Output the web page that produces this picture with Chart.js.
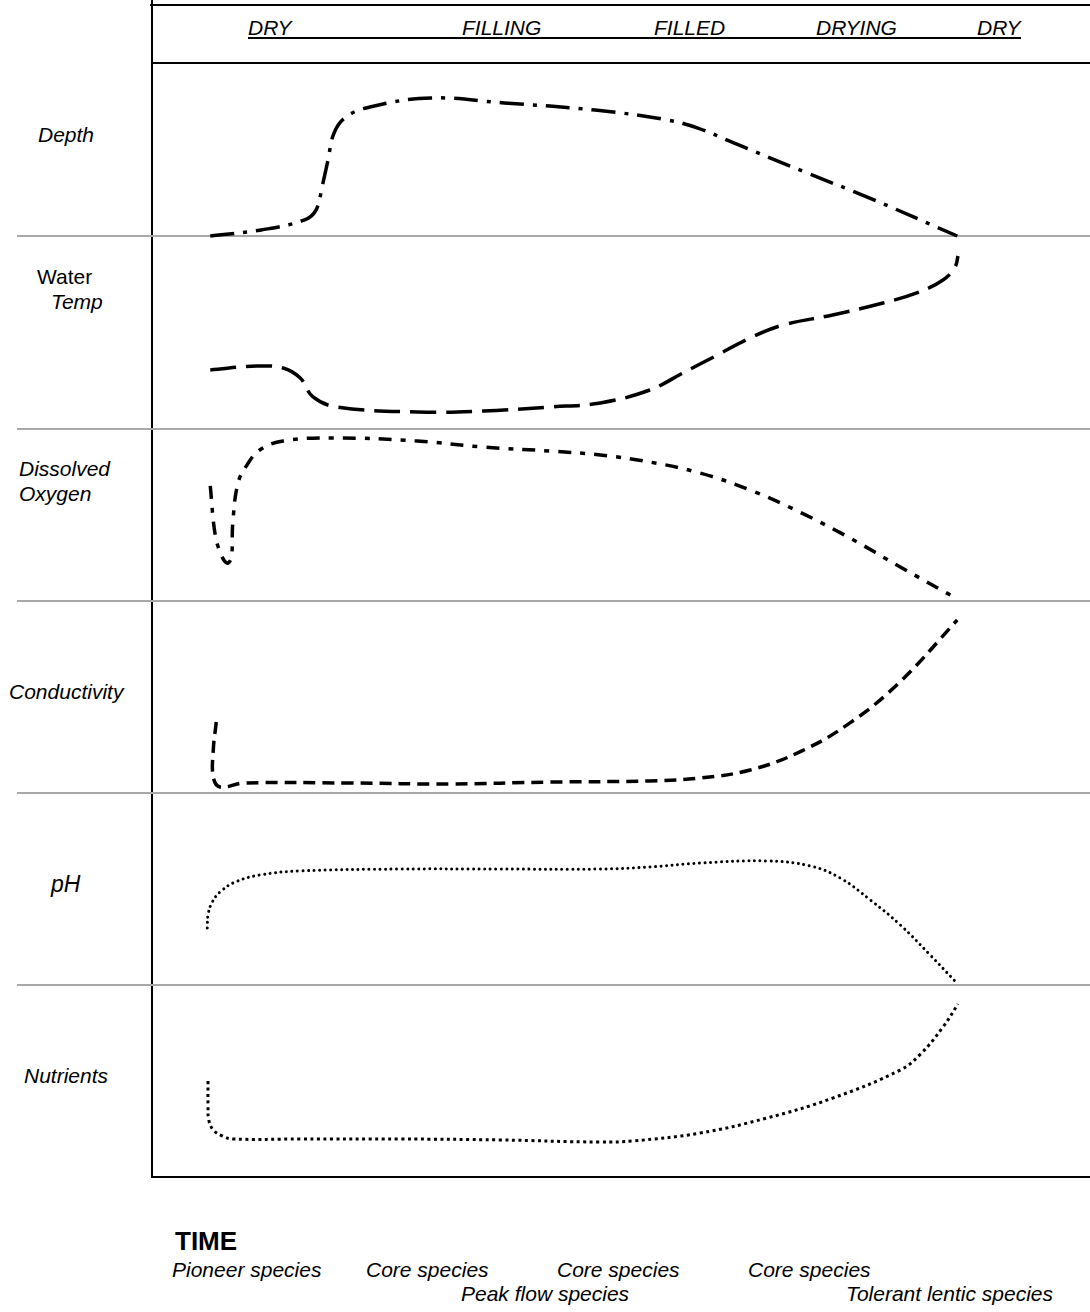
<!DOCTYPE html>
<html>
<head>
<meta charset="utf-8">
<script src="https://cdn.jsdelivr.net/npm/chart.js@4.4.1/dist/chart.umd.min.js"></script>
<style>
body{margin:0;background:#fff;}
#page{position:relative;width:1090px;height:1312px;overflow:hidden;font-family:"Liberation Sans",Arial,sans-serif;color:#000;}
.rule{position:absolute;left:17px;width:1073px;height:2px;background:#a8a8a8;}
.frame{position:absolute;background:#000;}
.txt{position:absolute;white-space:pre;font-size:21px;line-height:21px;font-style:italic;}
canvas{position:absolute;}
</style>
</head>
<body>
<div id="page">
  <!-- frame -->
  <div class="frame" style="left:150px;top:4px;width:940px;height:2px"></div>
  <div class="frame" style="left:152px;top:62px;width:938px;height:2px"></div>
  <div class="frame" style="left:151px;top:0;width:2px;height:1178px"></div>
  <div class="frame" style="left:151px;top:1176px;width:939px;height:2px"></div>
  <div class="rule" style="top:235px"></div>
  <div class="rule" style="top:428px"></div>
  <div class="rule" style="top:600px"></div>
  <div class="rule" style="top:792px"></div>
  <div class="rule" style="top:984px"></div>

  <!-- phases -->
  <div class="frame" style="left:248px;top:37px;width:773px;height:2px"></div>
  <div class="txt" style="left:248px;top:17px">DRY</div>
  <div class="txt" style="left:462px;top:17px">FILLING</div>
  <div class="txt" style="left:654px;top:17px">FILLED</div>
  <div class="txt" style="left:816px;top:17px">DRYING</div>
  <div class="txt" style="left:977px;top:17px">DRY</div>

  <!-- row labels -->
  <div class="txt" style="left:38px;top:124px">Depth</div>
  <div class="txt" style="left:37px;top:266px;font-style:normal">Water</div>
  <div class="txt" style="left:51px;top:291px">Temp</div>
  <div class="txt" style="left:19px;top:458px">Dissolved</div>
  <div class="txt" style="left:19px;top:483px">Oxygen</div>
  <div class="txt" style="left:9px;top:681px">Conductivity</div>
  <div class="txt" style="left:51px;top:873px;font-size:23px;line-height:23px">pH</div>
  <div class="txt" style="left:24px;top:1065px">Nutrients</div>

  <!-- time axis -->
  <div class="txt" style="left:175px;top:1228px;font-size:26px;line-height:26px;font-style:normal;font-weight:bold">TIME</div>
  <div class="txt" style="left:172px;top:1259px">Pioneer species</div>
  <div class="txt" style="left:366px;top:1259px">Core species</div>
  <div class="txt" style="left:557px;top:1259px">Core species</div>
  <div class="txt" style="left:748px;top:1259px">Core species</div>
  <div class="txt" style="left:461px;top:1283px">Peak flow species</div>
  <div class="txt" style="left:846px;top:1283px">Tolerant lentic species</div>

  <canvas id="depth" width="938" height="185" style="left:152px;top:57px"></canvas>
  <canvas id="temp" width="938" height="205" style="left:152px;top:230px"></canvas>
  <canvas id="oxygen" width="938" height="184" style="left:152px;top:423px"></canvas>
  <canvas id="cond" width="938" height="204" style="left:152px;top:595px"></canvas>
  <canvas id="ph" width="938" height="204" style="left:152px;top:787px"></canvas>
  <canvas id="nutr" width="938" height="204" style="left:152px;top:979px"></canvas>
</div>

<script>
// time runs 0 (first DRY) .. 100 (second DRY); level is 0 (panel floor) .. 100 (panel top)
var depthTime  = [0.3, 7.1, 12.8, 14.4, 15.2, 16.0, 16.8, 18.4, 21.6, 29.7, 39.5, 51.6, 61.2, 65.3, 70.1, 79.9, 87.9, 99.9];
var depthLevel = [0, 3.5, 9.2, 15.0, 28.3, 43.9, 59.5, 68.8, 74.6, 79.8, 76.9, 72.8, 67.1, 62.4, 53.8, 36.4, 22.5, 0];

var tempTime  = [0.3, 6.5, 10.0, 12.3, 14.0, 17.2, 27.9, 36.7, 45.6, 52.3, 58.9, 63.3, 67.9, 72.3, 76.7, 83.3, 90.0, 94.5, 98.0, 99.6, 100];
var tempLevel = [30.6, 32.6, 31.6, 26.4, 16.6, 11.4, 8.8, 9.3, 11.4, 13.5, 20.2, 29.0, 38.3, 47.2, 53.9, 59.1, 65.3, 70.5, 77.2, 83.9, 89.6];

var oxygenTime  = [0.3, 0.9, 1.6, 2.5, 3.1, 3.3, 4.0, 5.2, 6.9, 10.0, 16.7, 27.9, 36.7, 45.6, 52.3, 58.9, 65.6, 72.3, 78.9, 85.6, 92.3, 99.9];
var oxygenLevel = [66.9, 40.1, 28.5, 22.1, 25.0, 45.3, 68.6, 79.1, 87.8, 93.0, 94.8, 93.0, 89.5, 87.2, 84.9, 80.8, 74.4, 64.5, 51.7, 36.6, 19.8, 1.2];

var condTime  = [1.1, 0.7, 0.7, 1.6, 4.7, 18.9, 32.3, 45.6, 58.9, 65.6, 72.3, 78.9, 85.6, 92.3, 99.9];
var condLevel = [37.0, 22.4, 8.3, 3.1, 5.2, 5.2, 4.7, 5.7, 6.3, 7.8, 12.0, 21.4, 36.5, 58.0, 90.1];

var phTime  = [-0.1, 0, 0.5, 1.6, 3.6, 6.9, 12.3, 25.6, 38.9, 52.3, 58.9, 65.6, 74.5, 80.3, 84.3, 88.3, 92.3, 96.3, 99.7];
var phLevel = [29.7, 36.5, 42.7, 48.4, 53.6, 57.3, 59.4, 60.4, 60.4, 60.4, 61.5, 63.5, 64.6, 62.0, 55.7, 44.3, 31.3, 15.6, 1.6];

var nutrTime  = [0, 0, 0.1, 0.7, 1.9, 3.3, 12.3, 25.6, 38.9, 52.3, 56.7, 65.6, 74.5, 83.3, 92.3, 95.0, 98.0, 100];
var nutrLevel = [50.0, 37.5, 29.7, 24.5, 21.4, 19.8, 19.8, 19.8, 19.3, 18.2, 18.8, 22.9, 30.7, 41.1, 55.7, 64.0, 78.1, 90.1];

// visible time range of the panels (left frame to right edge)
var X_MIN = -7.47, X_MAX = 117.6;

function panel(canvasID, time, level, dash, width, cap){

    var points = time.map(function(t, i){ return {x: t, y: level[i]}; });

    return new Chart(document.getElementById(canvasID), { type: 'scatter',
        data: {
            datasets: [{
                data: points,
                showLine: true,
                borderColor: '#000',
                borderWidth: width,
                borderDash: dash,
                borderCapStyle: cap || 'butt',
                pointRadius: 0,
                tension: 0.4,
                clip: false,
            }],
        },
        options: {
            responsive: false,
            animation: false,
            events: [],
            layout: { padding: { top: 6, bottom: 6, left: 0, right: 0 } },
            plugins: {
                legend: { display: false },
                tooltip: { enabled: false },
            },
            scales: {
                x: { type: 'linear', min: X_MIN, max: X_MAX, display: false },
                y: { min: 0, max: 100, display: false },
            },
        },
    });
}

panel('depth', depthTime, depthLevel, [24, 9, 4, 9], 3.5);
panel('temp', tempTime, tempLevel, [26, 10], 3.5);
panel('oxygen', oxygenTime, oxygenLevel, [13, 9, 5, 9], 3.5);
panel('cond', condTime, condLevel, [12, 7], 3.5);
panel('ph', phTime, phLevel, [0.01, 5.5], 3, 'round');
panel('nutr', nutrTime, nutrLevel, [3, 3.5], 3);
</script>
</body>
</html>
